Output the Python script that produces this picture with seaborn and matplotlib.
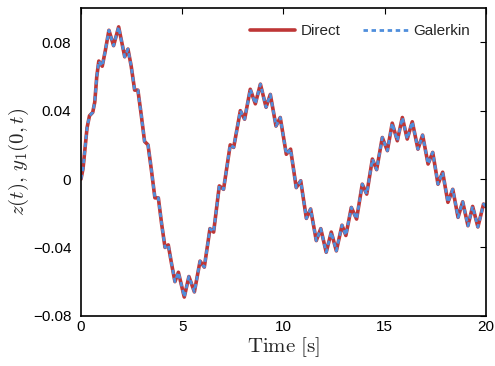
import matplotlib
matplotlib.use("Agg")
import matplotlib.pyplot as plt
import seaborn as sns
import pandas as pd

# time samples (s) read at the local extrema / shoulders of the curve
t = [0.00, 0.10, 0.20, 0.30, 0.42, 0.58, 0.68, 0.78, 0.88, 1.05, 1.20, 1.38,
     1.61, 1.86, 2.16, 2.32, 2.48, 2.65, 2.81, 2.97, 3.14, 3.31, 3.48, 3.65,
     3.82, 3.98, 4.15, 4.31, 4.48, 4.64, 4.81, 5.10, 5.33, 5.60, 5.88, 6.09,
     6.37, 6.55, 6.83, 7.04, 7.37, 7.54, 7.87, 8.08, 8.36, 8.61, 8.86, 9.14,
     9.35, 9.63, 9.84, 10.14, 10.35, 10.63, 10.85, 11.13, 11.34, 11.62, 11.84,
     12.11, 12.36, 12.61, 12.89, 13.08, 13.35, 13.61, 13.89, 14.11, 14.39,
     14.60, 14.88, 15.13, 15.37, 15.62, 15.87, 16.11, 16.36, 16.64, 16.87,
     17.14, 17.37, 17.63, 17.86, 18.12, 18.36, 18.62, 18.85, 19.11, 19.34,
     19.60, 19.88, 20.00]

z_direct = [0.000, 0.006, 0.018, 0.030, 0.037, 0.039, 0.045, 0.060, 0.069, 0.066,
            0.075, 0.087, 0.078, 0.089, 0.0715, 0.076, 0.066, 0.052, 0.052, 0.038,
            0.022, 0.020, 0.005, -0.011, -0.011, -0.026, -0.040, -0.0385, -0.050,
            -0.060, -0.0545, -0.069, -0.057, -0.066, -0.048, -0.0515, -0.029,
            -0.031, -0.004, -0.006, 0.020, 0.0185, 0.040, 0.035, 0.0525, 0.044,
            0.0555, 0.042, 0.0495, 0.031, 0.036, 0.0145, 0.0175, -0.005, -0.001,
            -0.023, -0.0175, -0.036, -0.029, -0.0428, -0.031, -0.042, -0.027,
            -0.033, -0.0166, -0.0234, -0.003, -0.0088, 0.0117, 0.0055, 0.0243,
            0.0166, 0.0327, 0.0224, 0.036, 0.0234, 0.0335, 0.0175, 0.0257, 0.0088,
            0.0156, -0.003, 0.004, -0.0136, -0.006, -0.0224, -0.0133, -0.0273,
            -0.016, -0.028, -0.0146, -0.016]

# Galerkin approximation coincides with the direct solution at this scale
y1_galerkin = list(z_direct)

x_ticks = [0, 5, 10, 15, 20]
y_ticks = [-0.08, -0.04, 0, 0.04, 0.08]
y_tick_labels = ["\u22120.08", "\u22120.04", "0", "0.04", "0.08"]

sns.set_theme(style="white")
plt.rcParams["font.family"] = ["Liberation Sans", "DejaVu Sans"]
plt.rcParams["mathtext.fontset"] = "cm"

df = pd.DataFrame({"t": t, "Direct": z_direct, "Galerkin": y1_galerkin})

fig = plt.figure(figsize=(4.95, 3.66), dpi=100)
ax = fig.add_axes([0.1636, 0.137, 0.8182, 0.841])

sns.lineplot(data=df, x="t", y="Direct", ax=ax, color="#BE3636", lw=2.6,
             label="Direct", solid_joinstyle="round", solid_capstyle="round")
sns.lineplot(data=df, x="t", y="Galerkin", ax=ax, color="#4F8EDC", lw=2.0,
             label="Galerkin", linestyle=(0, (1.6, 1.3)))

ax.set_xlim(0, 20)
ax.set_ylim(-0.08, 0.1)
ax.set_xticks(x_ticks)
ax.set_xticklabels([str(v) for v in x_ticks])
ax.set_yticks(y_ticks)
ax.set_yticklabels(y_tick_labels)
ax.tick_params(direction="in", top=True, right=True, length=4, width=0.8,
               labelsize=11, colors="black")
ax.tick_params(axis="y", pad=7)
ax.tick_params(axis="x", pad=3)
for s in ax.spines.values():
    s.set_color("black")
    s.set_linewidth(1.2)

ax.set_xlabel(r"$\mathrm{Time\ [s]}$", fontsize=15, labelpad=1)
ax.set_ylabel(r"$z(t),\, y_1(0,t)$", fontsize=15, labelpad=1)

leg = ax.legend(loc="upper right", ncol=2, frameon=False, fontsize=11,
                handlelength=2.95, columnspacing=1.45, handletextpad=0.35,
                borderaxespad=0.65)

fig.savefig("out.png", dpi=100)
